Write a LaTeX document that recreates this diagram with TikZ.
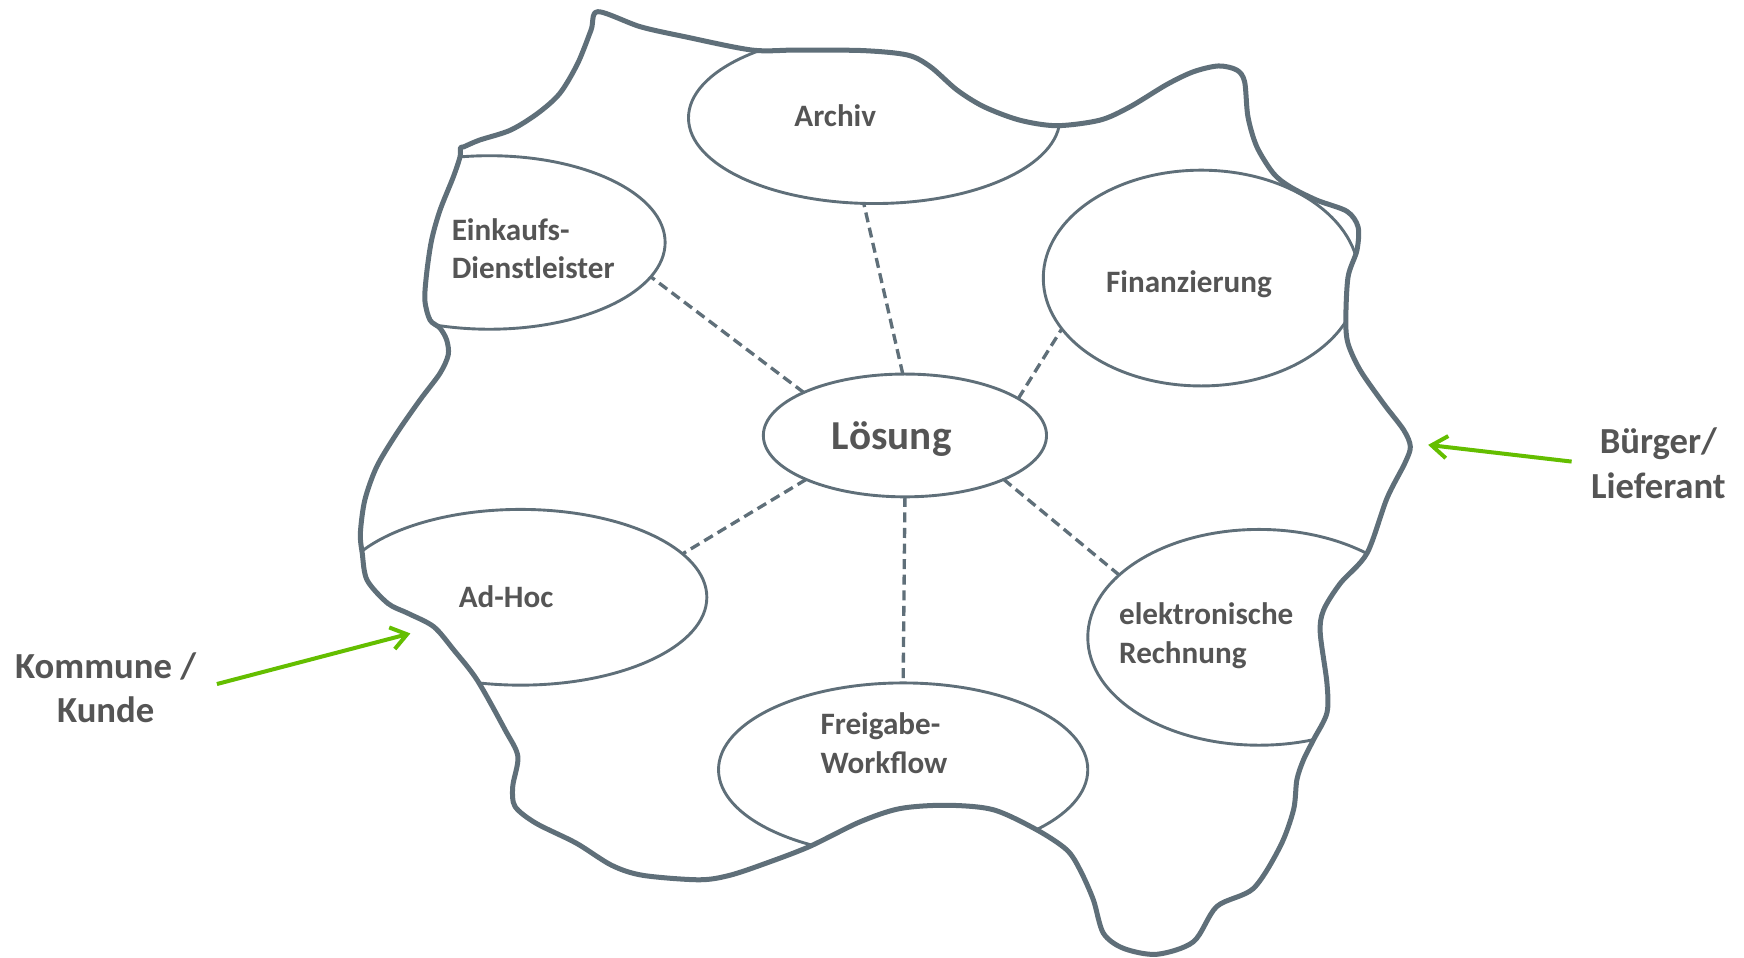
\documentclass[tikz,border=0pt]{standalone}
\usepackage{fontspec}
\setmainfont{Carlito}
\usetikzlibrary{shapes.geometric,arrows.meta}
\definecolor{slate}{HTML}{5F6F79}
\definecolor{txt}{HTML}{555555}
\definecolor{grn}{HTML}{64BE00}
\tikzset{
  bubble/.style={ellipse, draw=slate, line width=2.6pt, inner sep=0pt, outer sep=0pt},
  link/.style={draw=slate, line width=3pt, dash pattern=on 9pt off 5pt},
  blobline/.style={draw=slate, line width=4.5pt, line join=round},
  lbl/.style={text=txt, font=\fontsize{28pt}{34.5pt}\selectfont\bfseries, inner sep=0pt, align=left},
  biglbl/.style={text=txt, font=\fontsize{37pt}{42pt}\selectfont\bfseries, inner sep=0pt},
  sidelbl/.style={text=txt, font=\fontsize{33pt}{40pt}\selectfont\bfseries, inner sep=0pt, align=center},
  greenarrow/.style={draw=grn, line width=3.6pt, -{Straight Barb[length=14pt,width=20pt]}}
}
\begin{document}
\begin{tikzpicture}[x=1pt,y=-1pt]
\useasboundingbox (0,0) rectangle (1568,861);
\path[save path=\blobpath] plot[smooth cycle, tension=0.5] coordinates {
 (537.5,10.5) (575.6,24) (615.7,33) (676,45) (716,45) (776,45.5) (816,49.5) (836.5,60)
 (860.5,81) (884.7,96) (916.7,108) (950,113) (989,108) (1016,96) (1049,76) (1073,64.5)
 (1095.5,59.3) (1112,63) (1119,73.5) (1122,105) (1130,132) (1145,156) (1160,168) (1184,180)
 (1211,190) (1221,204) (1220,225) (1212,249) (1210,288) (1212,309) (1223,333) (1244,363)
 (1262,386.6) (1268,401.6) (1263,416.6) (1247,448) (1229,497.5) (1205,524.5) (1190,548.5)
 (1187,569) (1193,614) (1193,641) (1181,665) (1172,683) (1166,701) (1163,728) (1151,761)
 (1127,798.7) (1094,815) (1073,846.7) (1040,858) (1010,852.6) (992,839) (983,809)
 (971,782) (959,764) (932,746) (893,728) (851,724) (809,727) (773,739) (728,761) (689,776)
 (656,787) (628.5,791) (578,787) (550,778) (518,758) (481.6,740) (463,725) (461,707)
 (465.6,680) (454,656) (429,611.4) (408,584.4) (390,563.5) (367,551.5) (348.7,542.5)
 (330,521.5) (325.7,497.5) (324,479.5) (328,449.6) (338.7,419.6) (356.7,389.6) (377.6,359.6)
 (395.6,335.6) (403,319) (401.6,305.7) (395.6,295) (386.6,287.7) (382,270) (383.6,245.7)
 (388,216) (395.6,189) (407.6,159) (413.6,141) (414,133) (417,132) (431,126) (459,117)
 (483.3,102) (503.3,84) (519.4,57) (531.4,27)
};
\begin{scope}
  \clip[use path=\blobpath];
  \node[bubble, minimum width=334pt, minimum height=154pt] (archiv) at (786,106) {};
  \node[bubble, minimum width=316pt, minimum height=156pt] (einkauf) at (440,218) {};
  \node[bubble, minimum width=284pt, minimum height=194pt] (finanz) at (1080,250) {};
  \node[bubble, minimum width=335pt, minimum height=158pt] (adhoc) at (468,537) {};
  \node[bubble, minimum width=332pt, minimum height=156pt] (freigabe) at (812,692) {};
  \node[bubble, minimum width=308pt, minimum height=194pt] (erechnung) at (1132,573) {};
  \node[bubble, minimum width=254.6pt, minimum height=110.4pt] (loesung) at (813.6,391.5) {};
\end{scope}
\path[blobline, use path=\blobpath];
\draw[link] (loesung.92) -- (archiv.263);
\draw[link] (loesung.157) -- (einkauf.348);
\draw[link] (loesung.18) -- (finanz.200);
\draw[link] (loesung.204) -- (adhoc.15);
\draw[link] (loesung.270) -- (freigabe.90);
\draw[link] (loesung.336) -- (erechnung.156);
\node[lbl, anchor=base] (tArchiv) at (751,114) {Archiv};
\node[lbl, anchor=base] (tFinanz) at (1069,263) {Finanzierung};
\node[lbl, anchor=base] (tAdhoc) at (455,546) {Ad-Hoc};
\node[lbl, anchor=base west] (tEinkauf) at (406,250.3) {Einkaufs-\\Dienstleister};
\node[lbl, anchor=base west] (tFreigabe) at (737.5,695.3) {Freigabe-\\Workflow};
\node[lbl, anchor=base west] (tErech) at (1006,596.4) {elektronische\\Rechnung};
\node[biglbl, anchor=base] (tLoesung) at (801.7,404) {Lösung};
\node[sidelbl, anchor=base] (tKommune) at (95,650) {Kommune /\\Kunde};
\node[sidelbl, anchor=base] (tBuerger) at (1491,448) {Bürger/\\Lieferant};
\coordinate (kStart) at (195,615);
\coordinate (kTip) at (369,569.5);
\coordinate (bStart) at (1413,415);
\coordinate (bTip) at (1284,400);
\draw[greenarrow] (kStart) -- (kTip);
\draw[greenarrow] (bStart) -- (bTip);
\end{tikzpicture}
\end{document}
